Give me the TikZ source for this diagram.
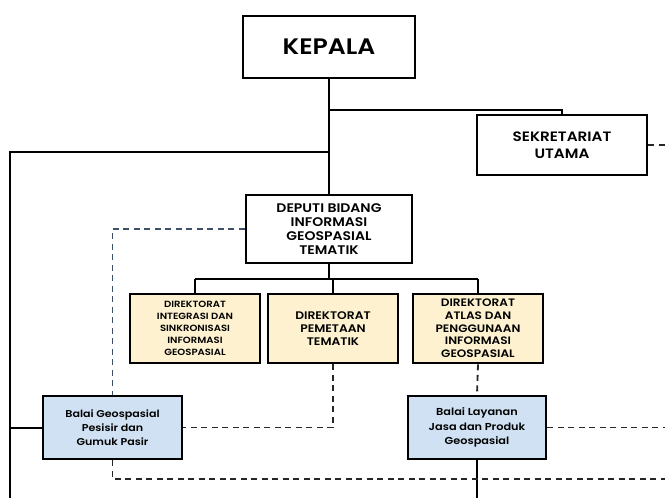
\documentclass[tikz,border=0pt]{standalone}
\usepackage{fontspec}
\setmainfont{Poppins}[BoldFont={Poppins SemiBold}, FakeStretch=1.12]
\usetikzlibrary{shadows}
\tikzset{
  box/.style={draw=black, line width=2.8pt, fill=white, align=center, inner sep=1pt,
    drop shadow={shadow xshift=1.2pt, shadow yshift=-1.2pt, opacity=0.3, fill=black}},
  dirbox/.style={box, fill=yellowfill, minimum width=130pt, minimum height=69pt},
  balaibox/.style={box, fill=bluefill, minimum width=138pt, minimum height=63pt},
  conn/.style={line width=2pt, draw=black},
  dconn/.style={line width=1.8pt, draw=black!85, dash pattern=on 6pt off 4.5pt},
  dconnb/.style={line width=1.8pt, draw=dashblue, dash pattern=on 6pt off 4.5pt},
}
\definecolor{yellowfill}{HTML}{FDF1CF}
\definecolor{bluefill}{HTML}{CFE1F2}
\definecolor{dashblue}{HTML}{3D5068}
\begin{document}
\begin{tikzpicture}[x=1pt, y=-1pt]
\useasboundingbox (0,0) rectangle (665,498);
% boxes
\node[box, minimum width=172pt, minimum height=62pt, font=\fontsize{22.4}{26}\selectfont\bfseries] (kepala) at (329,47) {KEPALA};
\node[box, minimum width=170pt, minimum height=60pt, font=\fontsize{13.6}{16.5}\selectfont\bfseries] (sek) at (562,145) {SEKRETARIAT\\UTAMA};
\node[box, minimum width=166pt, minimum height=68pt, font=\fontsize{12.5}{14}\selectfont\bfseries] (deputi) at (329,229) {DEPUTI BIDANG\\INFORMASI\\GEOSPASIAL\\TEMATIK};
\node[dirbox, font=\fontsize{9}{12}\selectfont\bfseries] (d1) at (195,328.5) {DIREKTORAT\\INTEGRASI DAN\\SINKRONISASI\\INFORMASI\\GEOSPASIAL};
\node[dirbox, font=\fontsize{11}{13.3}\selectfont\bfseries] (d2) at (333,328.5) {DIREKTORAT\\PEMETAAN\\TEMATIK};
\node[dirbox, font=\fontsize{10.8}{12.7}\selectfont\bfseries] (d3) at (478,328.5) {DIREKTORAT\\ATLAS DAN\\PENGGUNAAN\\INFORMASI\\GEOSPASIAL};
\node[balaibox, minimum width=139pt, font=\fontsize{9.9}{14.3}\selectfont\bfseries] (bg) at (112.5,427.5) {Balai Geospasial\\Pesisir dan\\Gumuk Pasir};
\node[balaibox, font=\fontsize{10.1}{14.3}\selectfont\bfseries] (bl) at (477,427.5) {Balai Layanan\\Jasa dan Produk\\Geospasial};
% coordinates
\coordinate (jtop) at (329,110);
\coordinate (jleft) at (329,152);
\coordinate (cornerL) at (10,152);
\coordinate (bottomL) at (10,498);
\coordinate (bus) at (329,279);
\coordinate (busL) at (195,279);
\coordinate (busR) at (478,279);
\coordinate (eSek) at (665,143);
\coordinate (eBl) at (665,427.5);
\coordinate (eBot) at (665,479);
\coordinate (bBl) at (477,498);
% solid connectors
\draw[conn] (kepala.south) -- (deputi.north);
\draw[conn] (jtop) -| (sek.north);
\draw[conn] (jleft) -- (cornerL) -- (bottomL);
\draw[conn] (bg.west) -- (bg.west -| cornerL);
\draw[conn] (deputi.south) -- (bus);
\draw[conn] (busL) -- (busR);
\draw[conn] (busL) -- (d1.north);
\draw[conn] (bus -| d2.north) -- (d2.north);
\draw[conn] (busR) -- (d3.north);
\draw[conn] (bl.south) -- (bBl);
% dashed connectors
\draw[dconnb] (deputi.west) -| (bg.north);
\draw[dconn] (d2.south) |- (bg.east);
\draw[dconn] (bg.south) |- (eBot);
\draw[dconn] (d3.south) -- (bl.north);
\draw[dconn] (bl.east) -- (eBl);
\draw[dconn] (sek.east) -- (eSek |- sek.east);
\end{tikzpicture}
\end{document}
